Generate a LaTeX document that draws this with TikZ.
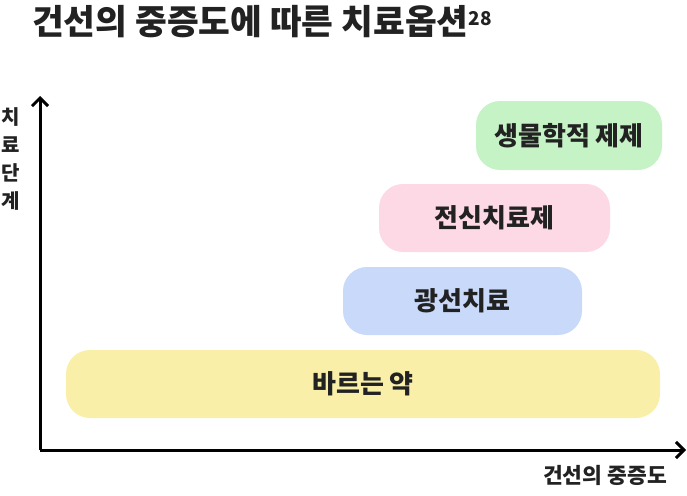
\documentclass[tikz,border=0pt]{standalone}
\usepackage{fontspec}
\setmainfont{Noto Sans CJK KR}
\usetikzlibrary{arrows.meta}
\definecolor{txt}{HTML}{222222}
\definecolor{cgreen}{HTML}{C6F3C6}
\definecolor{cpink}{HTML}{FDD9E6}
\definecolor{cblue}{HTML}{C8D9FA}
\definecolor{cyellow}{HTML}{F9EFA8}
\begin{document}
\begin{tikzpicture}[x=1pt,y=-1pt,
  pill/.style={inner sep=0pt, text=txt,
     font=\fontsize{26}{30}\selectfont\bfseries},
  axis/.style={line width=3pt, -{Straight Barb[length=8pt,width=16pt,line width=3pt]}}]
\useasboundingbox (0,0) rectangle (687,495);
\node[anchor=west, text=txt, font=\fontsize{34.5}{40}\selectfont\bfseries, inner sep=0pt] (title) at (32,22) {건선의 중증도에 따른 치료옵션\raisebox{9pt}{\fontsize{19}{22}\selectfont 28}};
% boxes
\path[fill=cgreen, rounded corners=24pt] (476,101) rectangle (662,170);
\node[pill] (bio) at (569,135.5) {생물학적 제제};
\path[fill=cpink, rounded corners=24pt] (379,184) rectangle (610,252);
\node[pill] (sys) at (494.5,218) {전신치료제};
\path[fill=cblue, rounded corners=24pt] (343,267) rectangle (582,335);
\node[pill] (photo) at (462.5,301) {광선치료};
\path[fill=cyellow, rounded corners=24pt] (66,350) rectangle (660,418);
\node[pill] (topical) at (363,384) {바르는 약};
% axes
\coordinate (o) at (40,450);
\coordinate (ytop) at (40,96);
\coordinate (xend) at (686,450);
\draw[axis] (o) -- (ytop);
\draw[axis] (o) -- (xend);
\node[text=txt, font=\fontsize{20}{28}\selectfont\bfseries, align=center, inner sep=0pt, anchor=north] (ylab) at (11,107) {치\\료\\단\\계};
\node[text=txt, font=\fontsize{21.5}{26}\selectfont\bfseries, inner sep=0pt, anchor=west] (xlab) at (543,475) {건선의 중증도};
\end{tikzpicture}
\end{document}
